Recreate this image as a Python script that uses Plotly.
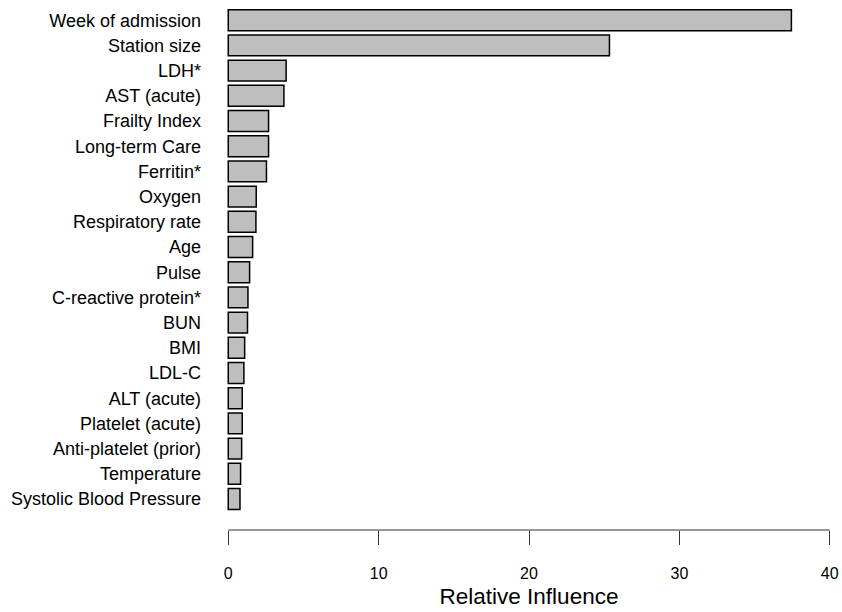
import plotly.graph_objects as go

# Relative influence of predictors, largest first
variables = [
    "Week of admission", "Station size", "LDH*", "AST (acute)", "Frailty Index",
    "Long-term Care", "Ferritin*", "Oxygen", "Respiratory rate", "Age", "Pulse",
    "C-reactive protein*", "BUN", "BMI", "LDL-C", "ALT (acute)", "Platelet (acute)",
    "Anti-platelet (prior)", "Temperature", "Systolic Blood Pressure",
]
influence = [
    37.45, 25.35, 3.85, 3.70, 2.68, 2.68, 2.54, 1.86, 1.84, 1.62, 1.42,
    1.31, 1.28, 1.09, 1.04, 0.93, 0.93, 0.89, 0.82, 0.78,
]
x_ticks = [0, 10, 20, 30, 40]

positions = list(range(len(variables)))
FONT = "Liberation Sans, Arial, sans-serif"

fig = go.Figure(
    go.Bar(
        x=influence,
        y=positions,
        orientation="h",
        width=0.83,
        marker=dict(color="#bebebe", line=dict(color="black", width=1.5)),
        hoverinfo="skip",
    )
)

# x axis line spanning 0..40 only
fig.add_shape(
    type="line", xref="x", yref="paper",
    x0=x_ticks[0], x1=x_ticks[-1], y0=0, y1=0,
    line=dict(color="#333333", width=1),
)

fig.update_layout(
    width=842, height=612,
    margin=dict(l=225.7, r=9.8, t=0, b=82),
    paper_bgcolor="white", plot_bgcolor="white",
    showlegend=False,
    font=dict(family=FONT, color="black"),
    xaxis=dict(
        range=[-0.15, 40.15],
        tickvals=x_ticks,
        ticktext=[str(v) for v in x_ticks],
        ticks="outside", ticklen=14, tickwidth=1, tickcolor="#333333",
        showline=False, showgrid=False, zeroline=False,
        tickfont=dict(size=16, family=FONT, color="black"),
        ticklabelstandoff=15,
        title=dict(text="Relative Influence", font=dict(size=22.5, family=FONT, color="black"), standoff=7),
    ),
    yaxis=dict(
        range=[20.23, -0.802],
        tickvals=positions,
        ticktext=variables,
        ticks="", showline=False, showgrid=False, zeroline=False,
        tickfont=dict(size=18, family=FONT, color="black"),
        ticklabelstandoff=24,
    ),
)

fig.write_html("out.html")
